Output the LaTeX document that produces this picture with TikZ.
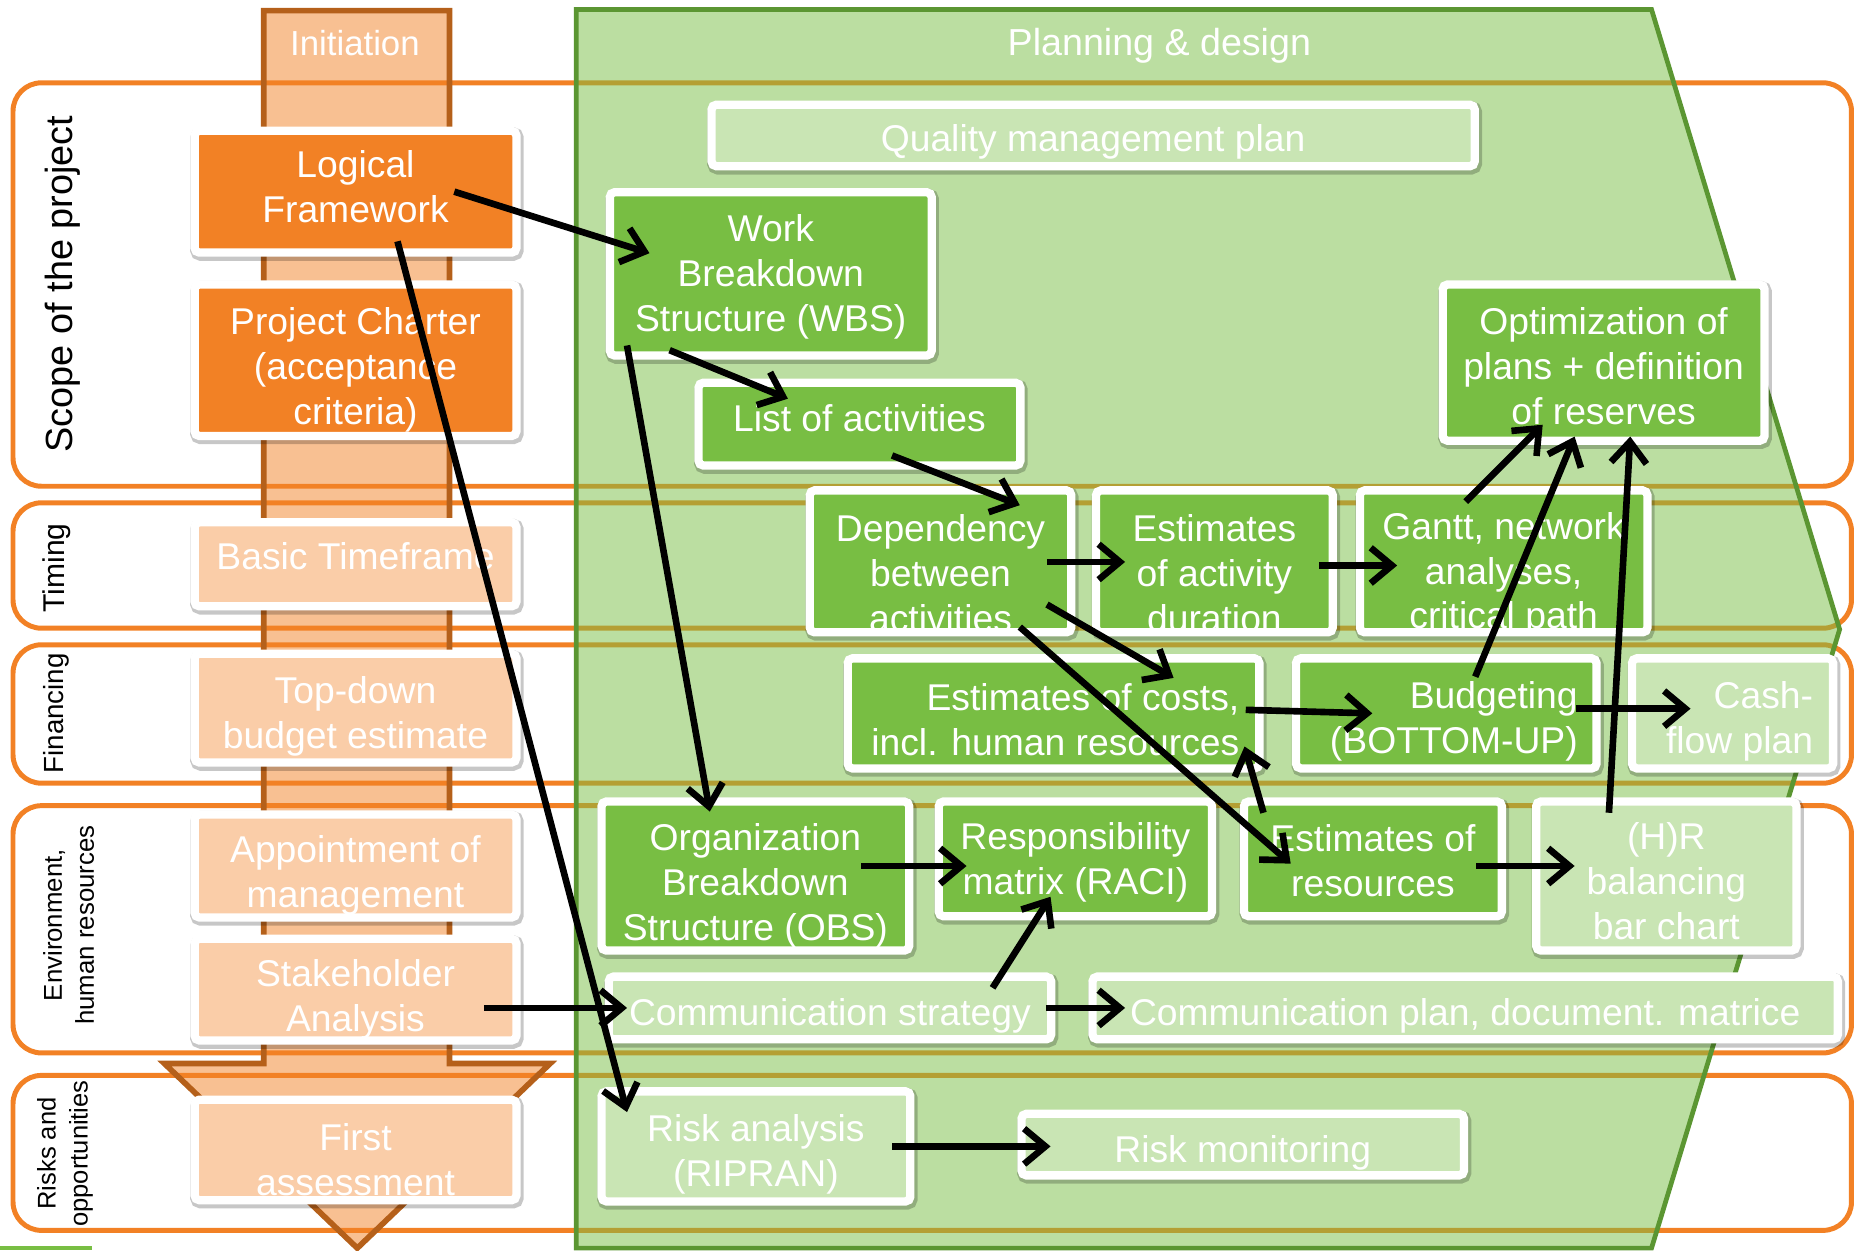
\documentclass[tikz,border=0pt]{standalone}
\usepackage{fontspec}
\setmainfont{Liberation Sans}
\usetikzlibrary{arrows.meta,calc}

\definecolor{laneor}{HTML}{F28125}
\definecolor{colborder}{HTML}{B5601A}
\definecolor{grn}{HTML}{78BE43}
\definecolor{grnborder}{HTML}{5B9632}

% box placed by its outer edges (x1,y1)-(x2,y2); white rim is 7 units wide in total;
% its text is a separate node, placed with the given options
\newcommand\mybox[8]{%
  \node[#1, minimum width={(#5-#3-7)*0.5pt}, minimum height={(#6-#4-7)*0.5pt}]
    (#2) at ({(#3+#5)/2},{(#4+#6)/2}) {};
  \node[ptext, #7] (#2-t) at (#2) {#8};}

\begin{document}
\begin{tikzpicture}[x=0.5pt,y=-0.5pt,
  lane/.style={draw=laneor, line width=2.1pt, rounded corners=12pt},
  lanelabel/.style={rotate=90, text=black, align=center, inner sep=0pt},
  header/.style={text=white, inner sep=0pt},
  pbox/.style={draw=white, line width=3.5pt, rounded corners=2pt, inner sep=0pt,
    preaction={draw=black, opacity=0.22, line width=5pt,
      transform canvas={xshift=0.6pt,yshift=-1pt}}},
  ptext/.style={text=white, align=center, inner sep=0pt,
    font=\fontsize{15.75}{19}\selectfont},
  darkorange/.style={pbox, fill=laneor},
  lightorange/.style={pbox, fill=laneor!40},
  greenbox/.style={pbox, fill=grn},
  lightgreen/.style={pbox, fill=grn!40},
  rtext/.style={align=right, anchor=east, xshift=#1},
  conn/.style={line width=2.8pt, -{Straight Barb[length=9pt,width=15pt]}},
]
\useasboundingbox (0,0) rectangle (1568,1057);

% swimlanes
\draw[lane] (11,70) rectangle (1565,411);
\draw[lane] (11,425) rectangle (1565,531);
\draw[lane] (11,545) rectangle (1565,662);
\draw[lane] (11,681) rectangle (1565,890);
\draw[lane] (11,909) rectangle (1565,1040);

% initiation phase arrow
\draw[draw=colborder, line width=2.4pt, fill=laneor, fill opacity=0.5]
  (223,9) -- (380,9) -- (380,899) -- (465,899) -- (302,1055) -- (139,899) -- (223,899) -- cycle;

% planning & design phase
\draw[draw=grnborder, line width=2pt, fill=grn, fill opacity=0.5]
  (487,8) -- (1396,8) -- (1555,532) -- (1396,1055) -- (487,1055) -- cycle;

\fill[grn] (0,1053) rectangle (78,1057);

% lane labels
\node[lanelabel, font=\fontsize{16}{19}\selectfont] (lscope) at (53,240) {Scope of the project};
\node[lanelabel, font=\fontsize{12.7}{15}\selectfont] (ltime) at (48,480) {Timing};
\node[lanelabel, font=\fontsize{11.7}{14}\selectfont] (lfin) at (48,603) {Financing};
\node[lanelabel, font=\fontsize{10.9}{13.5}\selectfont] (lenv) at (58,782) {Environment,\\human resources};
\node[lanelabel, font=\fontsize{10.8}{13.5}\selectfont] (lrisk) at (55,975) {Risks and\\opportunities};

% phase headers
\node[header, font=\fontsize{14.7}{17}\selectfont] (hinit) at (300,36) {Initiation};
\node[header, font=\fontsize{15.9}{19}\selectfont] (hplan) at (980,39) {Planning \& design};

% initiation boxes
\mybox{darkorange}{lf}{161}{107}{440}{217}{yshift=2pt}{Logical\\Framework}
\mybox{darkorange}{pc}{161}{237}{440}{372}{yshift=-4pt}{Project Charter\\(acceptance\\criteria)}
\mybox{lightorange}{tf}{161}{438}{440}{516}{yshift=3.5pt}{Basic Timeframe}
\mybox{lightorange}{td}{161}{549}{440}{648}{yshift=-3.5pt}{Top-down\\budget estimate}
\mybox{lightorange}{am}{161}{685}{440}{779}{yshift=-4pt}{Appointment of\\management}
\mybox{lightorange}{sa}{161}{790}{440}{883}{yshift=-4pt}{Stakeholder\\Analysis}
\mybox{lightorange}{fa}{161}{926}{440}{1018}{yshift=-4pt}{First\\assessment}

% planning boxes
\mybox{lightgreen}{qmp}{598}{85}{1250}{144}{yshift=-2.5pt}{Quality management plan}
\mybox{greenbox}{wbs}{512}{159}{791}{304}{yshift=-1.25pt}{Work\\Breakdown\\Structure (WBS)}
\mybox{greenbox}{loa}{587}{320}{866}{397}{yshift=2.5pt}{List of activities}
\mybox{greenbox}{opt}{1216}{237}{1495}{376}{yshift=-1.5pt}{Optimization of\\plans + definition\\of reserves}
\mybox{greenbox}{dep}{681}{411}{909}{538}{yshift=-5pt}{Dependency\\between\\activities}
\mybox{greenbox}{ead}{923}{411}{1130}{538}{yshift=-5pt}{Estimates\\of activity\\duration}
\mybox{greenbox}{gan}{1146}{411}{1396}{538}{yshift=-5.5pt}{Gantt, network\\analyses,\\critical path}
\mybox{greenbox}{eco}{713}{553}{1068}{653}{rtext=78.75pt, yshift=-2.75pt}{Estimates of costs,\\incl. human resources}
\mybox{greenbox}{bud}{1092}{553}{1353}{653}{rtext=55.75pt, yshift=-3.25pt}{Budgeting\\(BOTTOM-UP)}
\mybox{lightgreen}{cfp}{1376}{553}{1553}{653}{rtext=34.25pt, yshift=-3.25pt}{Cash-\\flow plan}
\mybox{greenbox}{obs}{505}{674}{772}{807}{yshift=-4pt}{Organization\\Breakdown\\Structure (OBS)}
\mybox{greenbox}{raci}{790}{674}{1028}{778}{yshift=-1.5pt}{Responsibility\\matrix (RACI)}
\mybox{greenbox}{eres}{1048}{674}{1273}{778}{yshift=-0.75pt}{Estimates of\\resources}
\mybox{lightgreen}{hr}{1295}{674}{1522}{807}{yshift=-2.25pt}{(H)R\\balancing\\bar chart}
\mybox{lightgreen}{cst}{511}{822}{892}{882}{yshift=-3.5pt}{Communication strategy}
\mybox{lightgreen}{cpl}{920}{822}{1557}{882}{yshift=-3.5pt}{Communication plan, document. matrice}
\mybox{lightgreen}{ra}{505}{919}{773}{1019}{yshift=-3.5pt}{Risk analysis\\(RIPRAN)}
\mybox{lightgreen}{rm}{860}{938}{1241}{997}{yshift=-3.5pt}{Risk monitoring}

% connectors
\draw[conn] ($(lf)+(83.5,0)$) -- ($(wbs)+(-102.5,-17.5)$);
\draw[conn] ($(lf)+(35.5,42)$) -- ($(ra)+(-109,-29)$);
\draw[conn] ($(wbs)+(-121.5,60.5)$) -- ($(obs)+(-38.5,-54.5)$);
\draw[conn] ($(wbs)+(-85.5,64.5)$) -- ($(loa)+(-60.5,-21.5)$);
\draw[conn] ($(loa)+(27.5,26.5)$) -- ($(dep)+(67,-47.5)$);
\draw[conn] ($(dep)+(90,0.5)$) -- ($(ead)+(-75.5,0.5)$);
\draw[conn] ($(ead)+(88.5,3.5)$) -- ($(gan)+(-90,3.5)$);
\draw[conn] ($(dep)+(90,36.5)$) -- ($(eco)+(101.5,-30)$);
\draw[conn] ($(dep)+(67,55.5)$) -- ($(eres)+(-69.5,4)$);
\draw[conn] ($(eco)+(162.5,-3)$) -- ($(bud)+(-62.5,0)$);
\draw[conn] ($(eres)+(-92.5,-39)$) -- ($(eco)+(161.5,28)$);
\draw[conn] ($(bud)+(109.5,-4)$) -- ($(cfp)+(-35.5,-4)$);
\draw[conn] ($(gan)+(-32,-50.5)$) -- ($(opt)+(-51.5,52.5)$);
\draw[conn] ($(bud)+(24.5,-31)$) -- ($(opt)+(-24.5,62.5)$);
\draw[conn] ($(hr)+(-48.5,-53.5)$) -- ($(opt)+(22.5,62.5)$);
\draw[conn] ($(obs)+(89.5,-8.5)$) -- ($(raci)+(-92,6)$);
\draw[conn] ($(eres)+(87.5,6)$) -- ($(hr)+(-77.5,-8.5)$);
\draw[conn] ($(cst)+(137.5,-17)$) -- ($(raci)+(-21,32)$);
\draw[conn] ($(sa)+(108.5,15.5)$) -- ($(cst)+(-171.5,0)$);
\draw[conn] ($(cst)+(182.5,0)$) -- ($(cpl)+(-287.5,0)$);
\draw[conn] ($(ra)+(115,0)$) -- ($(rm)+(-162.5,1.5)$);
\end{tikzpicture}
\end{document}
